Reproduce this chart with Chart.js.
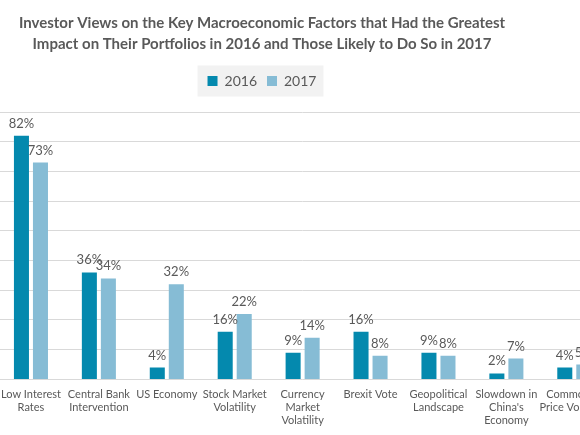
<!DOCTYPE html>
<html lang="en">
<head>
    <meta charset="UTF-8">
    <title>Investor Views on Macroeconomic Factors</title>
    <script src="https://cdn.jsdelivr.net/npm/chart.js"></script>
    <style>
        html, body { margin: 0; padding: 0; overflow: hidden; background: #fff; }
        #wrap { position: absolute; left: -85.5px; top: 0; width: 694px; height: 435px; }
    </style>
</head>
<body>
    <div id="wrap"><canvas id="factorsChart"></canvas></div>

    <script>
        // values (percent of investors)
        const categories = [
            ['Low Interest', 'Rates'],
            ['Central Bank', 'Intervention'],
            'US Economy',
            ['Stock Market', 'Volatility'],
            ['Currency', 'Market', 'Volatility'],
            'Brexit Vote',
            ['Geopolitical', 'Landscape'],
            ['Slowdown in', "China's", 'Economy'],
            ['Commodity', 'Price Volatility']
        ];
        const values2016 = [82, 36, 4, 16, 9, 16, 9, 2, 4];
        const values2017 = [73, 34, 32, 22, 14, 8, 8, 7, 5];
        const seriesNames = ['2016', '2017'];

        const textColor = '#595959';

        // grey box behind the legend + extra space under it
        const legendBox = {
            id: 'legendBox',
            beforeInit(chart) {
                const fit = chart.legend.fit;
                chart.legend.fit = function () {
                    fit.bind(chart.legend)();
                    this.height += 14;
                };
            },
            beforeDraw(chart) {
                const boxes = chart.legend.legendHitBoxes;
                if (!boxes || !boxes.length) return;
                const first = boxes[0], last = boxes[boxes.length - 1];
                const ctx = chart.ctx;
                const cy = first.top + first.height / 2;
                ctx.save();
                ctx.fillStyle = '#f2f2f2';
                ctx.fillRect(first.left - 10, cy - 15.5, last.left + last.width - first.left + 17, 31);
                ctx.restore();
            }
        };

        // percent labels above each bar
        const barLabels = {
            id: 'barLabels',
            afterDatasetsDraw(chart) {
                const ctx = chart.ctx;
                ctx.save();
                ctx.font = '13px Lato';
                ctx.fillStyle = textColor;
                ctx.textAlign = 'center';
                ctx.textBaseline = 'alphabetic';
                chart.data.datasets.forEach((ds, i) => {
                    chart.getDatasetMeta(i).data.forEach((bar, j) => {
                        ctx.fillText(ds.data[j] + '%', bar.x, bar.y - 8);
                    });
                });
                ctx.restore();
            }
        };

        new Chart(document.getElementById('factorsChart'), {
            type: 'bar',
            data: {
                labels: categories,
                datasets: [{
                    label: seriesNames[0],
                    data: values2016,
                    backgroundColor: '#0489ae'
                }, {
                    label: seriesNames[1],
                    data: values2017,
                    backgroundColor: '#86bcd5'
                }]
            },
            options: {
                responsive: true,
                maintainAspectRatio: false,
                animation: false,
                categoryPercentage: 0.56,
                barPercentage: 0.79,
                layout: { padding: { bottom: 8 } },
                scales: {
                    x: {
                        grid: { display: false },
                        border: { display: false },
                        ticks: {
                            color: textColor,
                            padding: 0,
                            maxRotation: 0,
                            autoSkip: false,
                            font: { family: 'Lato', size: 11, lineHeight: 1.2 }
                        }
                    },
                    y: {
                        min: 0,
                        max: 90,
                        afterFit(scale) { scale.width = 82; },
                        border: { display: false },
                        grid: { color: '#d9d9d9', drawTicks: false },
                        ticks: { display: false, stepSize: 10 }
                    }
                },
                plugins: {
                    tooltip: { enabled: false },
                    title: {
                        display: true,
                        text: ['Investor Views on the Key Macroeconomic Factors that Had the Greatest',
                               'Impact on Their Portfolios in 2016 and Those Likely to Do So in 2017'],
                        color: textColor,
                        font: { family: 'Lato', size: 15, weight: 'bold', lineHeight: 1.4 },
                        padding: { top: 13, bottom: 9 }
                    },
                    legend: {
                        labels: {
                            color: textColor,
                            boxWidth: 10,
                            boxHeight: 10,
                            padding: 10,
                            font: { family: 'Lato', size: 14 }
                        }
                    }
                }
            },
            plugins: [legendBox, barLabels]
        });
    </script>
</body>
</html>
